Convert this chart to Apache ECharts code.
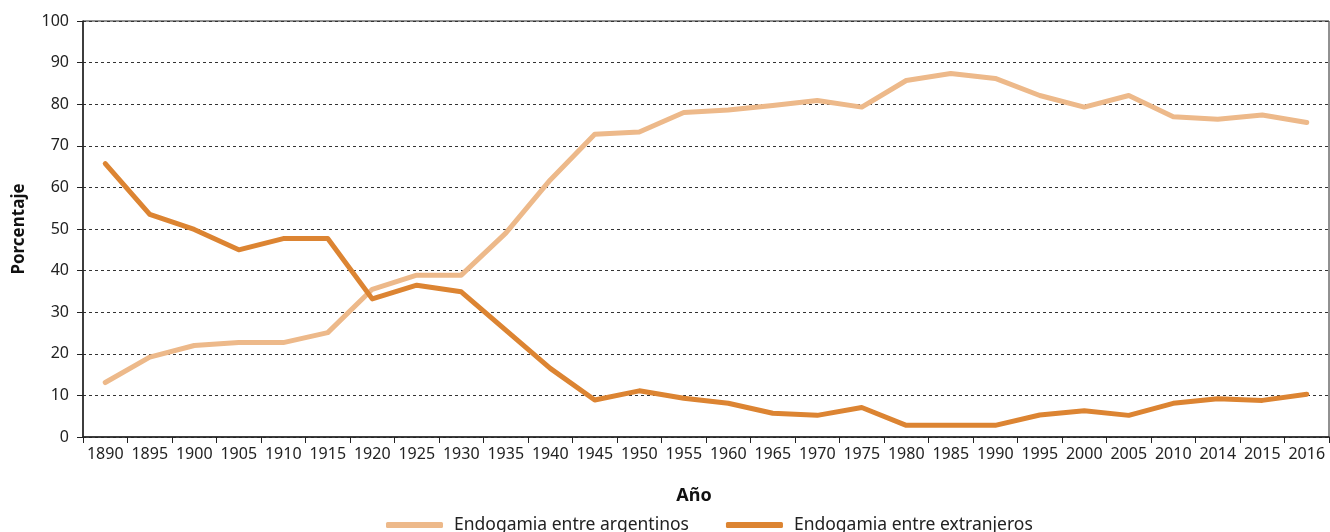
<!DOCTYPE html>
<html>
<head>
<meta charset="utf-8">
<script src="https://cdn.jsdelivr.net/npm/echarts@6/dist/echarts.min.js"></script>
<style>
  html, body { margin: 0; padding: 0; background: #fff; }
  #chart { width: 1330px; height: 532px; }
</style>
</head>
<body>
<div id="chart"></div>
<script>
var years = ['1890', '1895', '1900', '1905', '1910', '1915', '1920', '1925', '1930', '1935',
  '1940', '1945', '1950', '1955', '1960', '1965', '1970', '1975', '1980', '1985',
  '1990', '1995', '2000', '2005', '2010', '2014', '2015', '2016'];
// endogamia entre argentinos
var argentinos = [13.1, 19.2, 22.0, 22.7, 22.7, 25.1, 35.5, 38.9, 38.9, 49.0,
  61.8, 72.8, 73.3, 78.0, 78.6, 79.7, 80.9, 79.3, 85.7, 87.4,
  86.2, 82.1, 79.3, 82.1, 77.0, 76.4, 77.4, 75.6];
// endogamia entre extranjeros
var extranjeros = [65.7, 53.5, 49.9, 45.0, 47.7, 47.7, 33.2, 36.5, 34.9, 25.7,
  16.5, 8.9, 11.1, 9.3, 8.1, 5.7, 5.2, 7.1, 2.8, 2.8,
  2.8, 5.3, 6.3, 5.2, 8.1, 9.2, 8.8, 10.3];

var font = 'Noto Sans';
var chart = echarts.init(document.getElementById('chart'));
chart.setOption({
  animation: false,
  textStyle: { fontFamily: font },
  grid: {
    left: 83, right: 1, top: 21, bottom: 95,
    outerBoundsMode: 'none',
    containLabel: false,
    show: true, borderColor: '#222', borderWidth: 1
  },
  legend: {
    top: 511,
    left: 381,
    itemWidth: 57,
    itemHeight: 6,
    itemGap: 37,
    icon: 'roundRect',
    textStyle: { fontSize: 17.5, color: '#222', fontFamily: font, padding: [0, 0, 0, 6] },
    data: ['Endogamia entre argentinos', 'Endogamia entre extranjeros']
  },
  xAxis: {
    type: 'category',
    data: years,
    name: 'Año',
    nameLocation: 'middle',
    nameGap: 50,
    nameTextStyle: { fontSize: 18, fontWeight: 'bold', color: '#111', padding: [0, 24, 0, 0] },
    axisLine: { lineStyle: { color: '#222', width: 1.5 } },
    axisTick: { show: true, length: 6, lineStyle: { color: '#222' } },
    axisLabel: { interval: 0, fontSize: 16, color: '#222', margin: 9 },
    splitLine: { show: false }
  },
  yAxis: {
    type: 'value',
    min: 0, max: 100, interval: 10,
    name: 'Porcentaje',
    nameLocation: 'middle',
    nameGap: 55,
    nameRotate: 90,
    nameTextStyle: { fontSize: 17, fontWeight: 'bold', color: '#111' },
    axisLine: { show: true, lineStyle: { color: '#222', width: 1.5 } },
    axisTick: { show: true, length: 6, lineStyle: { color: '#222' } },
    axisLabel: { fontSize: 16, color: '#222', margin: 14 },
    splitLine: { show: true, lineStyle: { color: '#333', width: 1, type: [3, 3] } }
  },
  series: [{
    name: 'Endogamia entre argentinos',
    type: 'line',
    data: argentinos,
    showSymbol: false,
    itemStyle: { color: '#EDB98A' },
    lineStyle: { color: '#EDB98A', width: 5, cap: 'round', join: 'round' }
  }, {
    name: 'Endogamia entre extranjeros',
    type: 'line',
    data: extranjeros,
    showSymbol: false,
    itemStyle: { color: '#DC8432' },
    lineStyle: { color: '#DC8432', width: 5, cap: 'round', join: 'round' }
  }]
});
</script>
</body>
</html>
